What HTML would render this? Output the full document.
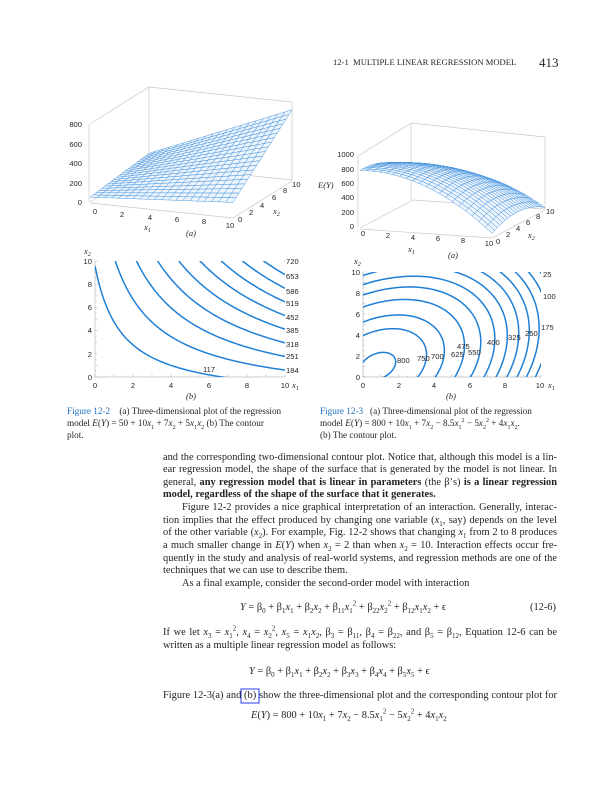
<!DOCTYPE html>
<html><head><meta charset="utf-8">
<style>
body{margin:0;background:#fff;}
#pg{position:relative;width:609px;height:800px;overflow:hidden;font-family:"Liberation Serif",serif;color:#231f20;}
.t{position:absolute;white-space:nowrap;}
.ln{position:absolute;left:163px;width:394px;font-size:10.4px;line-height:13px;height:13px;text-align:justify;text-align-last:justify;white-space:nowrap;}
.nl{text-align-last:left;}
.cap{position:absolute;font-size:9.2px;line-height:11.8px;white-space:nowrap;}
sub,sup{line-height:0;}
.fig{color:#1f6fc0;font-weight:normal;}
svg text{font-family:"Liberation Sans",sans-serif;font-size:7.6px;fill:#231f20;}
svg text.i{font-family:"Liberation Serif",serif;font-style:italic;font-size:8.5px;}
i{font-style:italic;}
</style></head><body><div id="pg">
<div class="t" style="left:333px;top:57px;font-size:8.6px;">12-1&nbsp; MULTIPLE LINEAR REGRESSION MODEL</div>
<div class="t" style="left:539px;top:55px;font-size:13px;">413</div>

<svg id="sv" width="609" height="800" style="position:absolute;left:0;top:0">
<defs>
<clipPath id="c1"><rect x="95" y="261" width="190" height="116"/></clipPath>
<clipPath id="c2"><rect x="363" y="272" width="178" height="105"/></clipPath>
</defs>
<g stroke="#c8c8c8" stroke-width="0.7" fill="none">
<polyline points="90,202 149,165 292,180"/>
<line x1="149" y1="165" x2="149" y2="87"/>
<line x1="292" y1="180" x2="292" y2="102"/>
<polyline points="90,124 149,87 292,102"/>
</g>
<g id="m1"></g>
<g stroke="#c8c8c8" stroke-width="0.7" fill="none">
<line x1="89" y1="202" x2="89" y2="124"/>
<polyline points="90,203 233,218 292,181"/>
</g>
<text x="82" y="205" text-anchor="end">0</text>
<text x="82" y="186" text-anchor="end">200</text>
<text x="82" y="166" text-anchor="end">400</text>
<text x="82" y="147" text-anchor="end">600</text>
<text x="82" y="127" text-anchor="end">800</text>
<text x="95" y="214" text-anchor="middle">0</text>
<text x="122" y="217" text-anchor="middle">2</text>
<text x="150" y="220" text-anchor="middle">4</text>
<text x="177" y="222" text-anchor="middle">6</text>
<text x="204" y="224" text-anchor="middle">8</text>
<text x="230" y="228" text-anchor="middle">10</text>
<text x="238" y="222">0</text>
<text x="249" y="215">2</text>
<text x="260" y="208">4</text>
<text x="272" y="200">6</text>
<text x="283" y="193">8</text>
<text x="292" y="187">10</text>
<text class="i" x="144" y="230">x<tspan font-size="6" dy="2">1</tspan></text>
<text class="i" x="273" y="214">x<tspan font-size="6" dy="2">2</tspan></text>
<text class="i" x="186" y="236">(a)</text>

<g stroke="#c8c8c8" stroke-width="0.7" fill="none">
<polyline points="360,228 413,200 545,209"/>
<line x1="411" y1="200" x2="411" y2="123"/>
<line x1="545" y1="209" x2="545" y2="137"/>
<polyline points="358,156 411,123 545,137"/>
</g>
<g id="m2"></g>
<g stroke="#c8c8c8" stroke-width="0.7" fill="none">
<line x1="358" y1="227" x2="358" y2="156"/>
<polyline points="360,229 492,238 545,210"/>
</g>
<text x="354" y="229" text-anchor="end">0</text>
<text x="354" y="215" text-anchor="end">200</text>
<text x="354" y="200" text-anchor="end">400</text>
<text x="354" y="186" text-anchor="end">600</text>
<text x="354" y="172" text-anchor="end">800</text>
<text x="354" y="157" text-anchor="end">1000</text>
<text class="i" x="318" y="188" font-size="7.5">E(Y)</text>
<text x="363" y="236" text-anchor="middle">0</text>
<text x="388" y="238" text-anchor="middle">2</text>
<text x="413" y="240" text-anchor="middle">4</text>
<text x="438" y="241" text-anchor="middle">6</text>
<text x="463" y="243" text-anchor="middle">8</text>
<text x="489" y="246" text-anchor="middle">10</text>
<text x="496" y="244">0</text>
<text x="506" y="237">2</text>
<text x="516" y="231">4</text>
<text x="526" y="225">6</text>
<text x="536" y="219">8</text>
<text x="546" y="214">10</text>
<text class="i" x="408" y="252">x<tspan font-size="6" dy="2">1</tspan></text>
<text class="i" x="528" y="238">x<tspan font-size="6" dy="2">2</tspan></text>
<text class="i" x="448" y="258">(a)</text>

<g id="ax1" stroke="#bdbdbd" stroke-width="0.7" fill="none"></g>
<g id="k1" clip-path="url(#c1)" stroke="#1f7fd6" stroke-width="1.5" fill="none"></g>
<text class="i" x="84" y="254">x<tspan font-size="6" dy="2">2</tspan></text>
<text x="92" y="264" text-anchor="end">10</text>
<text x="92" y="287" text-anchor="end">8</text>
<text x="92" y="310" text-anchor="end">6</text>
<text x="92" y="333" text-anchor="end">4</text>
<text x="92" y="357" text-anchor="end">2</text>
<text x="92" y="380" text-anchor="end">0</text>
<text x="95" y="388" text-anchor="middle">0</text>
<text x="133" y="388" text-anchor="middle">2</text>
<text x="171" y="388" text-anchor="middle">4</text>
<text x="209" y="388" text-anchor="middle">6</text>
<text x="247" y="388" text-anchor="middle">8</text>
<text x="285" y="388" text-anchor="middle">10</text>
<text class="i" x="292" y="388">x<tspan font-size="6" dy="2">1</tspan></text>
<text class="i" x="186" y="399">(b)</text>
<text x="286" y="264">720</text><text x="286" y="279">653</text><text x="286" y="294">586</text>
<text x="286" y="306">519</text><text x="286" y="320">452</text><text x="286" y="333">385</text>
<text x="286" y="347">318</text><text x="286" y="359">251</text><text x="286" y="373">184</text>
<text x="203" y="372">117</text>

<g id="ax2" stroke="#bdbdbd" stroke-width="0.7" fill="none"></g>
<g id="k2" clip-path="url(#c2)" stroke="#1f7fd6" stroke-width="1.5" fill="none"></g>
<text class="i" x="354" y="264">x<tspan font-size="6" dy="2">2</tspan></text>
<text x="360" y="275" text-anchor="end">10</text>
<text x="360" y="296" text-anchor="end">8</text>
<text x="360" y="317" text-anchor="end">6</text>
<text x="360" y="338" text-anchor="end">4</text>
<text x="360" y="359" text-anchor="end">2</text>
<text x="360" y="380" text-anchor="end">0</text>
<text x="363" y="388" text-anchor="middle">0</text>
<text x="399" y="388" text-anchor="middle">2</text>
<text x="434" y="388" text-anchor="middle">4</text>
<text x="470" y="388" text-anchor="middle">6</text>
<text x="505" y="388" text-anchor="middle">8</text>
<text x="540" y="388" text-anchor="middle">10</text>
<text class="i" x="548" y="388">x<tspan font-size="6" dy="2">1</tspan></text>
<text class="i" x="446" y="399">(b)</text>
<text x="543" y="277">25</text><text x="543" y="299">100</text><text x="541" y="330">175</text>
<text x="525" y="336">250</text><text x="508" y="340">325</text><text x="487" y="345">400</text>
<text x="457" y="349">475</text>
<text x="468" y="355">550</text><text x="451" y="357">625</text><text x="431" y="359">700</text>
<text x="417" y="361">750</text><text x="397" y="363">800</text>
<rect x="241" y="689" width="18" height="14" fill="none" stroke="#2b3ff0" stroke-width="1"/>
</svg>

<div class="cap" style="left:67px;top:406px;"><span class="fig">Figure 12-2</span>&nbsp;&nbsp;&nbsp; (a) Three-dimensional plot of the regression<br>model <i>E</i>(<i>Y</i>) = 50 + 10<i>x</i><sub style="font-size:6px">1</sub> + 7<i>x</i><sub style="font-size:6px">2</sub> + 5<i>x</i><sub style="font-size:6px">1</sub><i>x</i><sub style="font-size:6px">2</sub> (b) The contour<br>plot.</div>
<div class="cap" style="left:320px;top:406px;"><span class="fig">Figure 12-3</span>&nbsp;&nbsp; (a) Three-dimensional plot of the regression<br>model <i>E</i>(<i>Y</i>) = 800 + 10<i>x</i><sub style="font-size:6px">1</sub> + 7<i>x</i><sub style="font-size:6px">2</sub> − 8.5<i>x</i><sub style="font-size:6px">1</sub><sup style="font-size:6px">2</sup> − 5<i>x</i><sub style="font-size:6px">2</sub><sup style="font-size:6px">2</sup> + 4<i>x</i><sub style="font-size:6px">1</sub><i>x</i><sub style="font-size:6px">2</sub>.<br>(b) The contour plot.</div>

<div class="ln" style="top:450.5px">and the corresponding two-dimensional contour plot. Notice that, although this model is a lin-</div>
<div class="ln" style="top:463px">ear regression model, the shape of the surface that is generated by the model is not linear. In</div>
<div class="ln" style="top:475.5px">general, <b>any regression model that is linear in parameters</b> (the β’s) <b>is a linear regression</b></div>
<div class="ln nl" style="top:488px"><b>model, regardless of the shape of the surface that it generates.</b></div>
<div class="ln" style="top:501px;left:182px;width:375px">Figure 12-2 provides a nice graphical interpretation of an interaction. Generally, interac-</div>
<div class="ln" style="top:513.5px">tion implies that the effect produced by changing one variable (<i>x</i><sub style="font-size:7px">1</sub>, say) depends on the level</div>
<div class="ln" style="top:526px">of the other variable (<i>x</i><sub style="font-size:7px">2</sub>). For example, Fig. 12-2 shows that changing <i>x</i><sub style="font-size:7px">1</sub> from 2 to 8 produces</div>
<div class="ln" style="top:539px">a much smaller change in <i>E</i>(<i>Y</i>) when <i>x</i><sub style="font-size:7px">2</sub> = 2 than when <i>x</i><sub style="font-size:7px">2</sub> = 10. Interaction effects occur fre-</div>
<div class="ln" style="top:551.5px">quently in the study and analysis of real-world systems, and regression methods are one of the</div>
<div class="ln nl" style="top:564px">techniques that we can use to describe them.</div>
<div class="ln nl" style="top:577px;left:182px">As a final example, consider the second-order model with interaction</div>

<div class="t" style="left:240px;top:601px;font-size:10.4px;line-height:13px;"><i>Y</i> = β<sub style="font-size:7px">0</sub> + β<sub style="font-size:7px">1</sub><i>x</i><sub style="font-size:7px">1</sub> + β<sub style="font-size:7px">2</sub><i>x</i><sub style="font-size:7px">2</sub> + β<sub style="font-size:7px">11</sub><i>x</i><sub style="font-size:7px">1</sub><sup style="font-size:7px">2</sup> + β<sub style="font-size:7px">22</sub><i>x</i><sub style="font-size:7px">2</sub><sup style="font-size:7px">2</sup> + β<sub style="font-size:7px">12</sub><i>x</i><sub style="font-size:7px">1</sub><i>x</i><sub style="font-size:7px">2</sub> + ϵ</div>
<div class="t" style="left:530px;top:601px;font-size:10.4px;line-height:13px;">(12-6)</div>
<div class="ln" style="top:626px">If we let <i>x</i><sub style="font-size:7px">3</sub> = <i>x</i><sub style="font-size:7px">1</sub><sup style="font-size:7px">2</sup>, <i>x</i><sub style="font-size:7px">4</sub> = <i>x</i><sub style="font-size:7px">2</sub><sup style="font-size:7px">2</sup>, <i>x</i><sub style="font-size:7px">5</sub> = <i>x</i><sub style="font-size:7px">1</sub><i>x</i><sub style="font-size:7px">2</sub>, β<sub style="font-size:7px">3</sub> = β<sub style="font-size:7px">11</sub>, β<sub style="font-size:7px">4</sub> = β<sub style="font-size:7px">22</sub>, and β<sub style="font-size:7px">5</sub> = β<sub style="font-size:7px">12</sub>, Equation 12-6 can be</div>
<div class="ln nl" style="top:639px">written as a multiple linear regression model as follows:</div>
<div class="t" style="left:249px;top:665px;font-size:10.4px;line-height:13px;"><i>Y</i> = β<sub style="font-size:7px">0</sub> + β<sub style="font-size:7px">1</sub><i>x</i><sub style="font-size:7px">1</sub> + β<sub style="font-size:7px">2</sub><i>x</i><sub style="font-size:7px">2</sub> + β<sub style="font-size:7px">3</sub><i>x</i><sub style="font-size:7px">3</sub> + β<sub style="font-size:7px">4</sub><i>x</i><sub style="font-size:7px">4</sub> + β<sub style="font-size:7px">5</sub><i>x</i><sub style="font-size:7px">5</sub> + ϵ</div>
<div class="ln" style="top:689px">Figure 12-3(a) and (b) show the three-dimensional plot and the corresponding contour plot for</div>
<div class="t" style="left:251px;top:709px;font-size:10.4px;line-height:13px;"><i>E</i>(<i>Y</i>) = 800 + 10<i>x</i><sub style="font-size:7px">1</sub> + 7<i>x</i><sub style="font-size:7px">2</sub> − 8.5<i>x</i><sub style="font-size:7px">1</sub><sup style="font-size:7px">2</sup> − 5<i>x</i><sub style="font-size:7px">2</sub><sup style="font-size:7px">2</sup> + 4<i>x</i><sub style="font-size:7px">1</sub><i>x</i><sub style="font-size:7px">2</sub></div>
</div>
<script>
var NS="http://www.w3.org/2000/svg";
function el(p,t,a){var e=document.createElementNS(NS,t);for(var k in a)e.setAttribute(k,a[k]);p.appendChild(e);return e;}
function mesh(gid,f,P,N){
  var g=document.getElementById(gid),q=[];
  for(var i=0;i<N;i++)for(var j=0;j<N;j++){
    var a=i*10/N,b=(i+1)*10/N,c=j*10/N,d=(j+1)*10/N;
    var pts=[[a,c],[b,c],[b,d],[a,d]].map(function(p){var s=P(p[0],p[1],f(p[0],p[1]));return s[0].toFixed(1)+","+s[1].toFixed(1);}).join(" ");
    q.push({d:(c+d)/2-0.15*(a+b)/2,pts:pts});
  }
  q.sort(function(x,y){return y.d-x.d;});
  q.forEach(function(o){el(g,"polygon",{points:o.pts,fill:"#eef5fd",stroke:"#3b8ddb","stroke-width":"0.45"});});
}
mesh("m1",function(x,y){return 50+10*x+7*y+5*x*y;},function(x,y,z){return[90+14.3*x+5.9*y,202+1.5*x-3.7*y-0.0975*z];},20);
mesh("m2",function(x,y){return 800+10*x+7*y-8.5*x*x-5*y*y+4*x*y;},function(x,y,z){return[360+13.2*x+5.3*y,228+0.9*x-2.8*y-0.072*z];},20);
function axes(gid,x0,x1,y0,y1){
  var g=document.getElementById(gid);
  el(g,"polyline",{points:x0+","+y1+" "+x0+","+y0+" "+x1+","+y0});
  for(var k=0;k<=20;k++){var X=x0+(x1-x0)*k/20,Y=y0+(y1-y0)*k/20,L=k%2?1.5:2.5;
    el(g,"line",{x1:X,y1:y0,x2:X,y2:y0-L});el(g,"line",{x1:x0,y1:Y,x2:x0+L,y2:Y});}
}
axes("ax1",95,285,377,261);axes("ax2",363,541,377,272);
var k1=document.getElementById("k1");
[117,184,251,318,385,452,519,586,653,720].forEach(function(c){
  var d="";for(var i=0;i<=200;i++){var x=i/20,y=(c-50-10*x)/(7+5*x);if(y>11)y=11;if(y<-1)y=-1;
    d+=(i?"L":"M")+(95+19*x).toFixed(1)+","+(377-11.6*y).toFixed(1);}
  el(k1,"path",{d:d});});
var k2=document.getElementById("k2");
var cx=0.831,cy=1.0325,f=function(x,y){return 800+10*x+7*y-8.5*x*x-5*y*y+4*x*y;},Em=f(cx,cy);
[25,100,175,250,325,400,475,550,625,700,750,800].forEach(function(c){
  var d="";for(var i=0;i<=240;i++){var t=i/240*2*Math.PI,u=Math.cos(t),v=Math.sin(t);
    var Q=8.5*u*u+5*v*v-4*u*v,r=Math.sqrt((Em-c)/Q),x=cx+r*u,y=cy+r*v;
    d+=(i?"L":"M")+(363+17.8*x).toFixed(1)+","+(377-10.5*y).toFixed(1);}
  el(k2,"path",{d:d});});
</script>
</body></html>
